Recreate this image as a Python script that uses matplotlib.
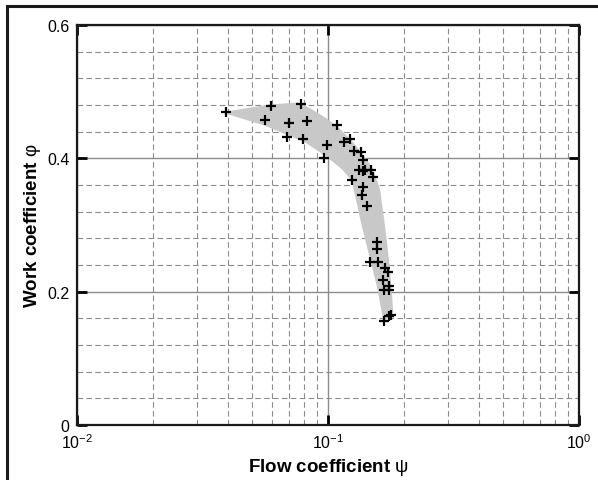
import matplotlib
matplotlib.use("Agg")
import matplotlib.pyplot as plt
from matplotlib.patches import Polygon, Rectangle
from matplotlib.ticker import LogLocator, MultipleLocator, FixedLocator, NullFormatter

plt.rcParams['font.family'] = ['Liberation Sans', 'DejaVu Sans']
plt.rcParams['mathtext.fontset'] = 'custom'
plt.rcParams['mathtext.rm'] = 'Liberation Sans'
plt.rcParams['mathtext.it'] = 'Liberation Sans:italic'

# measured points (flow coefficient, work coefficient)
flow = [0.0391, 0.0593, 0.0778, 0.0561, 0.0699, 0.0822, 0.0685, 0.0795,
        0.1089, 0.0988, 0.0967, 0.1161, 0.1227, 0.1269, 0.1350, 0.1382,
        0.1332, 0.1382, 0.1404, 0.1488, 0.1511, 0.1243, 0.1378, 0.1366,
        0.1430, 0.1572, 0.1572, 0.1475, 0.1576, 0.1682, 0.1729, 0.1656,
        0.1745, 0.1667, 0.1745, 0.1671, 0.1745, 0.1782]
work = [0.469, 0.478, 0.482, 0.457, 0.453, 0.456, 0.432, 0.429,
        0.450, 0.420, 0.401, 0.424, 0.429, 0.411, 0.409, 0.398,
        0.383, 0.381, 0.383, 0.383, 0.372, 0.368, 0.357, 0.345,
        0.329, 0.274, 0.264, 0.245, 0.245, 0.236, 0.229, 0.217,
        0.209, 0.202, 0.202, 0.156, 0.163, 0.165]

# shaded band outline
band_flow = [0.0396, 0.0578, 0.0762, 0.0835, 0.0973, 0.1099, 0.1243, 0.1362,
             0.1497, 0.1611, 0.1687, 0.1766, 0.1820, 0.1661, 0.1637, 0.1563,
             0.1470, 0.1362, 0.1243, 0.1134, 0.0973, 0.0810, 0.0561, 0.0396]
band_work = [0.4705, 0.4805, 0.484, 0.4766, 0.4616, 0.4466, 0.4265, 0.409,
             0.3866, 0.354, 0.299, 0.234, 0.169, 0.154, 0.169, 0.209,
             0.249, 0.299, 0.3665, 0.384, 0.404, 0.424, 0.449, 0.4665]

y_ticks = [0, 0.2, 0.4, 0.6]
y_labels = ['0', '0.2', '0.4', '0.6']
x_ticks = [0.01, 0.1, 1.0]
x_labels = [r'$10^{-2}$', r'$10^{-1}$', r'$10^{0}$']

fig = plt.figure(figsize=(5.98, 4.81), dpi=100)
ax = fig.add_axes([0.1288, 0.1143, 0.8395, 0.8316])

# outer frame of the figure (cut off at right and bottom)
fig.add_artist(Rectangle((7 / 598, -0.2), 1.2, 1 - 7 / 481 + 0.2,
                         transform=fig.transFigure, fill=False,
                         edgecolor='#1a1a1a', linewidth=2.2))

ax.add_patch(Polygon(list(zip(band_flow, band_work)), closed=True,
                     facecolor='#c8c8c8', edgecolor='none', zorder=1))
ax.plot(flow, work, linestyle='none', marker='+', color='black',
        markersize=7.5, markeredgewidth=1.6, zorder=3)

ax.set_xscale('log')
ax.set_xlim(0.01, 1.0)
ax.set_ylim(0, 0.6)

ax.xaxis.set_major_locator(FixedLocator(x_ticks))
ax.xaxis.set_minor_locator(LogLocator(base=10, subs=range(2, 10)))
ax.xaxis.set_minor_formatter(NullFormatter())
ax.set_xticklabels(x_labels)
ax.yaxis.set_major_locator(FixedLocator(y_ticks))
ax.yaxis.set_minor_locator(MultipleLocator(0.04))
ax.set_yticklabels(y_labels)

ax.grid(True, which='major', color='#8c8c8c', linestyle='-', linewidth=1.0, zorder=0)
ax.grid(True, which='minor', color='#8c8c8c', linestyle=(0, (5, 3)), linewidth=0.8, zorder=0)
ax.set_axisbelow(True)

ax.tick_params(which='major', direction='in', length=7, width=2, top=True, right=True,
               labelsize=11.5, colors='black')
ax.tick_params(which='minor', length=0)
ax.tick_params(axis='y', pad=5.5)
ax.tick_params(axis='x', pad=5.5)
for s in ax.spines.values():
    s.set_linewidth(1.6)
    s.set_color('#1a1a1a')

ax.set_xlabel('Flow coefficient ' + r'$\mathrm{\psi}$', fontsize=13.5,
              fontweight='bold', labelpad=3)
ax.set_ylabel('Work coefficient ' + r'$\mathrm{\varphi}$', fontsize=13.5,
              fontweight='bold', labelpad=3)

fig.savefig('out.png', dpi=100)
